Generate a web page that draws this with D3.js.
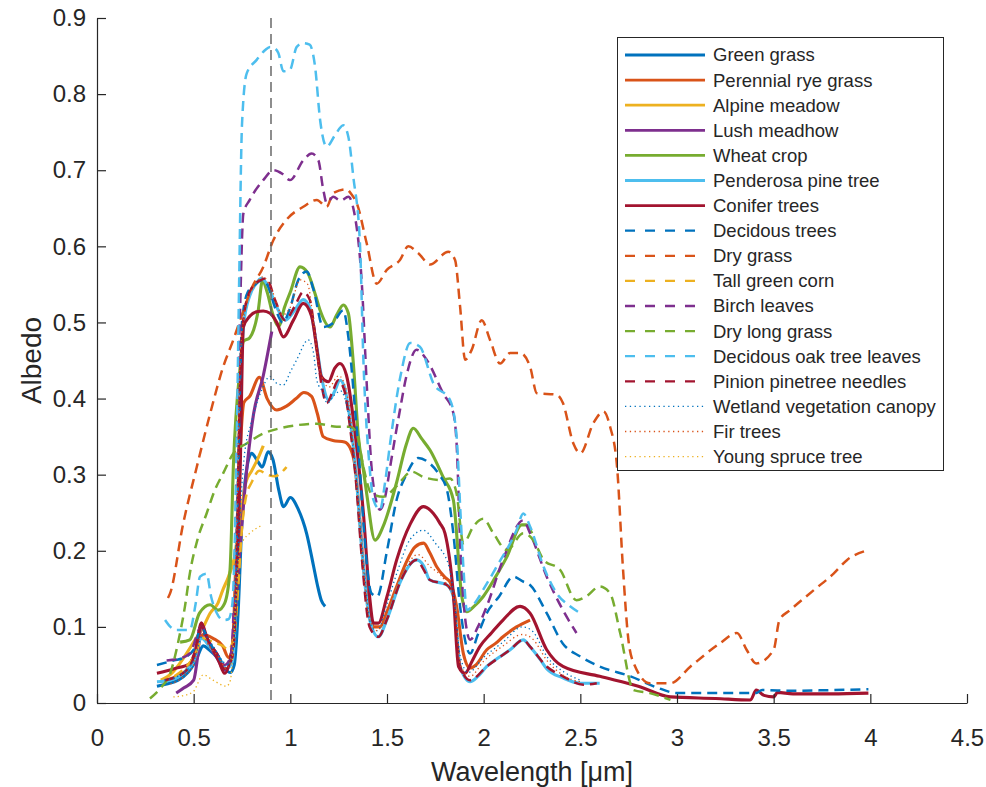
<!DOCTYPE html>
<html><head><meta charset="utf-8">
<script src="https://cdn.jsdelivr.net/npm/d3@7"></script>
<style>
html,body{margin:0;padding:0;background:#fff;}
text{font-family:"Liberation Sans",Arial,Helvetica,sans-serif;fill:#262626;}
</style></head>
<body><svg id="chart" width="986" height="787"></svg>
<script>
// ---------- data ----------
const seriesNames = ["Green grass","Perennial rye grass","Alpine meadow","Lush meadhow","Wheat crop","Penderosa pine tree","Conifer trees","Decidous trees","Dry grass","Tall green corn","Birch leaves","Dry long grass","Decidous oak tree leaves","Pinion pinetree needles","Wetland vegetation canopy","Fir trees","Young spruce tree"];
const seriesColors = ["#0072BD","#D95319","#EDB120","#7E2F8E","#77AC30","#4DBEEE","#A2142F","#0072BD","#D95319","#EDB120","#7E2F8E","#77AC30","#4DBEEE","#A2142F","#0072BD","#D95319","#EDB120"];
const seriesStyles = ["solid","solid","solid","solid","solid","solid","solid","dashed","dashed","dashed","dashed","dashed","dashed","dashed","dotted","dotted","dotted"];
const xTicks = [0,0.5,1,1.5,2,2.5,3,3.5,4,4.5];
const yTicks = [0,0.1,0.2,0.3,0.4,0.5,0.6,0.7,0.8,0.9];
const markerWavelength = 0.9;

const greenGrass = [[0.31,0.022],[0.36,0.025],[0.42,0.03],[0.47,0.04],[0.51,0.055],[0.55,0.075],[0.58,0.07],[0.62,0.06],[0.66,0.045],[0.69,0.04],[0.71,0.05],[0.73,0.12],[0.75,0.24],[0.77,0.3],[0.8,0.328],[0.83,0.318],[0.855,0.31],[0.885,0.33],[0.91,0.32],[0.94,0.28],[0.965,0.258],[1.0,0.27],[1.04,0.255],[1.085,0.222],[1.12,0.18],[1.14,0.155],[1.16,0.135],[1.18,0.127]];
const perennialRye = [[0.35,0.03],[0.45,0.04],[0.5,0.06],[0.55,0.09],[0.6,0.085],[0.65,0.075],[0.68,0.06],[0.7,0.07],[0.72,0.2],[0.74,0.33],[0.76,0.395],[0.79,0.403],[0.84,0.428],[0.88,0.40],[0.93,0.385],[0.98,0.39],[1.03,0.4],[1.07,0.408],[1.11,0.403],[1.14,0.38],[1.17,0.35],[1.22,0.345],[1.28,0.343],[1.31,0.335],[1.335,0.31],[1.36,0.24],[1.378,0.179],[1.41,0.12],[1.43,0.1],[1.464,0.1],[1.5,0.12],[1.55,0.153],[1.6,0.185],[1.645,0.205],[1.69,0.21],[1.72,0.198],[1.757,0.179],[1.8,0.165],[1.826,0.159],[1.86,0.127],[1.895,0.065],[1.93,0.046],[1.96,0.05],[2.016,0.07],[2.06,0.078],[2.1,0.087],[2.17,0.1],[2.24,0.109]];
const alpineMeadow = [[0.33,0.03],[0.39,0.04],[0.45,0.06],[0.5,0.08],[0.55,0.1],[0.585,0.118],[0.625,0.131],[0.65,0.148],[0.68,0.166],[0.71,0.19],[0.74,0.24],[0.77,0.29],[0.8,0.305],[0.83,0.32],[0.86,0.338]];
const lushMeadhow = [[0.41,0.013],[0.45,0.02],[0.5,0.03],[0.52,0.06],[0.54,0.105],[0.56,0.09],[0.585,0.074],[0.62,0.06],[0.66,0.043],[0.69,0.052],[0.71,0.1],[0.74,0.205],[0.78,0.32],[0.81,0.38],[0.86,0.43],[0.904,0.488]];
const wheatCrop = [[0.43,0.08],[0.48,0.083],[0.53,0.118],[0.585,0.129],[0.627,0.122],[0.66,0.131],[0.688,0.175],[0.706,0.315],[0.74,0.44],[0.757,0.475],[0.79,0.48],[0.81,0.49],[0.834,0.516],[0.856,0.555],[0.88,0.54],[0.91,0.51],[0.94,0.495],[0.97,0.52],[1.0,0.54],[1.05,0.573],[1.09,0.565],[1.13,0.536],[1.154,0.516],[1.205,0.494],[1.24,0.51],[1.274,0.523],[1.30,0.512],[1.326,0.446],[1.352,0.35],[1.378,0.306],[1.395,0.275],[1.438,0.214],[1.48,0.232],[1.55,0.29],[1.6,0.34],[1.636,0.361],[1.68,0.347],[1.723,0.332],[1.79,0.297],[1.843,0.267],[1.887,0.14],[1.913,0.12],[1.95,0.127],[1.998,0.14],[2.06,0.165],[2.12,0.192],[2.197,0.234],[2.22,0.234],[2.249,0.223]];
const penderosaPine = [[0.31,0.028],[0.38,0.03],[0.45,0.04],[0.5,0.055],[0.54,0.085],[0.58,0.075],[0.63,0.06],[0.67,0.045],[0.7,0.055],[0.72,0.15],[0.74,0.4],[0.76,0.5],[0.79,0.535],[0.82,0.55],[0.85,0.558],[0.88,0.55],[0.93,0.52],[0.975,0.503],[1.02,0.515],[1.067,0.53],[1.1,0.52],[1.13,0.48],[1.16,0.43],[1.2,0.398],[1.23,0.41],[1.257,0.424],[1.28,0.415],[1.31,0.37],[1.34,0.3],[1.37,0.2],[1.41,0.11],[1.455,0.087],[1.5,0.11],[1.57,0.16],[1.653,0.188],[1.69,0.18],[1.72,0.162],[1.81,0.155],[1.843,0.14],[1.878,0.048],[1.93,0.028],[1.97,0.035],[2.016,0.048],[2.08,0.06],[2.137,0.07],[2.205,0.083],[2.24,0.074],[2.29,0.058],[2.326,0.045],[2.41,0.033],[2.5,0.026],[2.6,0.026]];
const coniferTrees = [[0.31,0.039],[0.4,0.045],[0.48,0.052],[0.51,0.07],[0.54,0.105],[0.57,0.085],[0.6,0.07],[0.63,0.055],[0.66,0.039],[0.7,0.074],[0.72,0.15],[0.74,0.3],[0.757,0.494],[0.79,0.508],[0.826,0.514],[0.86,0.515],[0.895,0.512],[0.93,0.5],[0.964,0.481],[1.016,0.503],[1.067,0.525],[1.11,0.508],[1.14,0.46],[1.16,0.429],[1.197,0.422],[1.23,0.44],[1.257,0.446],[1.29,0.431],[1.343,0.337],[1.378,0.249],[1.41,0.14],[1.43,0.105],[1.455,0.105],[1.5,0.14],[1.55,0.188],[1.62,0.235],[1.688,0.258],[1.74,0.249],[1.774,0.236],[1.80,0.223],[1.843,0.144],[1.87,0.048],[1.904,0.039],[1.94,0.055],[1.98,0.074],[2.04,0.092],[2.10,0.109],[2.188,0.127],[2.24,0.118],[2.326,0.07],[2.41,0.048],[2.6,0.035],[2.8,0.022],[2.966,0.008],[3.2,0.006],[3.38,0.004],[3.41,0.017],[3.45,0.01],[3.50,0.008],[3.52,0.014],[3.6,0.012],[3.8,0.012],[3.99,0.013]];
const decidousTrees = [[0.31,0.05],[0.4,0.056],[0.445,0.059],[0.5,0.07],[0.54,0.1],[0.58,0.08],[0.62,0.065],[0.66,0.05],[0.69,0.055],[0.71,0.1],[0.73,0.3],[0.75,0.5],[0.78,0.54],[0.82,0.55],[0.85,0.555],[0.88,0.55],[0.92,0.52],[0.96,0.50],[1.0,0.52],[1.04,0.555],[1.085,0.567],[1.12,0.543],[1.17,0.494],[1.22,0.499],[1.274,0.516],[1.30,0.481],[1.335,0.385],[1.36,0.306],[1.378,0.236],[1.42,0.144],[1.45,0.14],[1.5,0.2],[1.55,0.267],[1.6,0.3],[1.662,0.322],[1.72,0.315],[1.77,0.3],[1.81,0.28],[1.843,0.223],[1.878,0.127],[1.93,0.065],[1.97,0.09],[2.016,0.118],[2.08,0.14],[2.154,0.166],[2.2,0.16],[2.24,0.155],[2.326,0.118],[2.41,0.078],[2.5,0.061],[2.6,0.048],[2.76,0.035],[2.9,0.02],[3.0,0.013],[3.2,0.013],[3.41,0.013],[3.44,0.017],[3.6,0.016],[3.8,0.017],[3.99,0.018]];
const dryGrass = [[0.367,0.138],[0.378,0.144],[0.446,0.236],[0.516,0.31],[0.585,0.38],[0.653,0.442],[0.705,0.477],[0.75,0.51],[0.8,0.545],[0.86,0.573],[0.912,0.608],[0.98,0.635],[1.067,0.652],[1.137,0.661],[1.188,0.652],[1.222,0.67],[1.29,0.675],[1.317,0.668],[1.343,0.657],[1.395,0.604],[1.447,0.551],[1.499,0.569],[1.567,0.582],[1.61,0.6],[1.662,0.591],[1.723,0.576],[1.817,0.593],[1.852,0.582],[1.878,0.521],[1.904,0.451],[1.938,0.464],[1.99,0.503],[2.033,0.477],[2.085,0.446],[2.137,0.46],[2.188,0.46],[2.24,0.442],[2.275,0.407],[2.378,0.405],[2.41,0.394],[2.464,0.341],[2.5,0.328],[2.568,0.368],[2.62,0.383],[2.654,0.363],[2.69,0.31],[2.72,0.179],[2.75,0.08],[2.78,0.05],[2.86,0.026],[2.966,0.026],[3.07,0.048],[3.22,0.078],[3.31,0.092],[3.36,0.07],[3.41,0.052],[3.50,0.07],[3.53,0.109],[3.585,0.122],[3.706,0.148],[3.81,0.17],[3.88,0.188],[3.99,0.201]];
const tallGreenCorn = [[0.4,0.035],[0.45,0.045],[0.5,0.06],[0.55,0.085],[0.6,0.08],[0.65,0.075],[0.68,0.07],[0.71,0.09],[0.73,0.15],[0.75,0.23],[0.77,0.27],[0.8,0.29],[0.84,0.305],[0.88,0.30],[0.92,0.298],[0.95,0.302],[0.98,0.31]];
const birchLeaves = [[0.36,0.056],[0.42,0.058],[0.48,0.065],[0.54,0.1],[0.58,0.08],[0.62,0.065],[0.66,0.05],[0.69,0.06],[0.71,0.15],[0.725,0.35],[0.74,0.516],[0.757,0.643],[0.79,0.661],[0.86,0.687],[0.912,0.70],[0.96,0.695],[0.998,0.687],[1.067,0.713],[1.11,0.722],[1.145,0.713],[1.17,0.675],[1.188,0.657],[1.222,0.665],[1.26,0.66],[1.3,0.665],[1.33,0.645],[1.37,0.55],[1.395,0.42],[1.42,0.31],[1.44,0.27],[1.464,0.254],[1.49,0.27],[1.516,0.31],[1.567,0.385],[1.60,0.429],[1.653,0.464],[1.705,0.451],[1.79,0.407],[1.843,0.381],[1.86,0.341],[1.88,0.2],[1.895,0.135],[1.93,0.083],[1.97,0.1],[2.016,0.127],[2.10,0.188],[2.205,0.24],[2.24,0.223],[2.326,0.166],[2.41,0.122],[2.48,0.092]];
const dryLongGrass = [[0.274,0.006],[0.33,0.02],[0.38,0.04],[0.42,0.08],[0.455,0.127],[0.48,0.17],[0.52,0.215],[0.567,0.249],[0.61,0.28],[0.653,0.302],[0.705,0.328],[0.774,0.341],[0.86,0.354],[0.947,0.361],[1.033,0.365],[1.137,0.367],[1.24,0.363],[1.31,0.363],[1.343,0.354],[1.378,0.31],[1.42,0.275],[1.48,0.271],[1.55,0.285],[1.628,0.304],[1.688,0.297],[1.774,0.293],[1.826,0.295],[1.86,0.275],[1.895,0.21],[1.947,0.232],[1.998,0.242],[2.05,0.223],[2.12,0.201],[2.205,0.223],[2.257,0.214],[2.31,0.188],[2.395,0.175],[2.48,0.135],[2.53,0.14],[2.6,0.153],[2.654,0.144],[2.706,0.092],[2.775,0.017],[2.86,0.013],[2.966,0.004]];
const decidousOak = [[0.352,0.109],[0.38,0.1],[0.41,0.096],[0.48,0.096],[0.51,0.13],[0.533,0.166],[0.567,0.17],[0.59,0.14],[0.62,0.118],[0.653,0.109],[0.68,0.11],[0.7,0.13],[0.72,0.3],[0.735,0.55],[0.75,0.76],[0.774,0.827],[0.826,0.845],[0.87,0.858],[0.895,0.862],[0.92,0.86],[0.938,0.854],[0.964,0.83],[0.998,0.832],[1.033,0.862],[1.067,0.867],[1.10,0.865],[1.128,0.836],[1.154,0.766],[1.188,0.731],[1.231,0.746],[1.274,0.759],[1.30,0.744],[1.326,0.691],[1.36,0.604],[1.378,0.45],[1.41,0.31],[1.43,0.267],[1.464,0.254],[1.49,0.29],[1.516,0.341],[1.57,0.43],[1.62,0.473],[1.67,0.468],[1.74,0.42],[1.826,0.398],[1.86,0.35],[1.88,0.25],[1.895,0.179],[1.913,0.122],[1.95,0.13],[2.0,0.15],[2.067,0.179],[2.17,0.227],[2.205,0.249],[2.24,0.232],[2.31,0.179],[2.378,0.144],[2.447,0.127],[2.5,0.118]];
const pinionNeedles = [[0.35,0.03],[0.45,0.04],[0.5,0.06],[0.54,0.1],[0.58,0.08],[0.62,0.065],[0.66,0.045],[0.7,0.06],[0.72,0.15],[0.74,0.42],[0.76,0.51],[0.8,0.545],[0.85,0.556],[0.877,0.558],[0.92,0.53],[0.973,0.503],[1.02,0.52],[1.067,0.54],[1.1,0.53],[1.13,0.48],[1.16,0.42],[1.188,0.394],[1.22,0.41],[1.248,0.424],[1.28,0.41],[1.31,0.36],[1.34,0.29],[1.37,0.19],[1.41,0.1],[1.455,0.087],[1.5,0.11],[1.57,0.16],[1.653,0.188],[1.69,0.175],[1.72,0.162],[1.81,0.155],[1.843,0.14],[1.878,0.048],[1.93,0.03],[2.016,0.048],[2.137,0.07],[2.205,0.083],[2.24,0.074],[2.326,0.048],[2.41,0.035],[2.516,0.024],[2.585,0.026]];
const wetlandCanopy = [[0.35,0.03],[0.45,0.04],[0.5,0.055],[0.55,0.09],[0.6,0.075],[0.65,0.055],[0.68,0.05],[0.71,0.08],[0.73,0.2],[0.76,0.32],[0.8,0.37],[0.85,0.41],[0.895,0.429],[0.93,0.42],[0.964,0.418],[1.0,0.435],[1.033,0.451],[1.093,0.477],[1.12,0.46],[1.137,0.424],[1.171,0.407],[1.19,0.394],[1.23,0.405],[1.26,0.41],[1.3,0.38],[1.34,0.3],[1.38,0.18],[1.42,0.1],[1.45,0.095],[1.5,0.13],[1.55,0.17],[1.62,0.215],[1.688,0.227],[1.75,0.21],[1.82,0.18],[1.85,0.13],[1.88,0.06],[1.92,0.04],[2.0,0.06],[2.1,0.08],[2.2,0.1],[2.25,0.095],[2.33,0.06],[2.42,0.04],[2.5,0.03]];
const firTrees = [[0.38,0.025],[0.45,0.035],[0.5,0.05],[0.54,0.09],[0.58,0.075],[0.63,0.06],[0.67,0.045],[0.7,0.07],[0.72,0.2],[0.74,0.45],[0.77,0.52],[0.82,0.55],[0.86,0.56],[0.9,0.545],[0.96,0.51],[1.0,0.52],[1.05,0.556],[1.09,0.55],[1.12,0.5],[1.15,0.44],[1.2,0.415],[1.25,0.43],[1.29,0.41],[1.33,0.33],[1.37,0.2],[1.41,0.11],[1.45,0.095],[1.5,0.12],[1.58,0.17],[1.66,0.195],[1.72,0.18],[1.8,0.16],[1.85,0.13],[1.88,0.05],[1.93,0.035],[2.0,0.055],[2.1,0.075],[2.2,0.09],[2.25,0.085],[2.33,0.055],[2.42,0.035],[2.5,0.028]];
const youngSpruce = [[0.395,0.008],[0.45,0.01],[0.498,0.015],[0.55,0.037],[0.6,0.03],[0.67,0.022],[0.69,0.03],[0.705,0.074],[0.72,0.14],[0.74,0.205],[0.757,0.214],[0.79,0.223],[0.85,0.233]];

const seriesData = [greenGrass,perennialRye,alpineMeadow,lushMeadhow,wheatCrop,penderosaPine,coniferTrees,decidousTrees,dryGrass,tallGreenCorn,birchLeaves,dryLongGrass,decidousOak,pinionNeedles,wetlandCanopy,firTrees,youngSpruce];

// ---------- drawing ----------
const svg = d3.select("#chart");
const L = 97, R = 967, T = 18, B = 703;
const x = d3.scaleLinear().domain([0,4.5]).range([L,R]);
const y = d3.scaleLinear().domain([0,0.9]).range([B,T]);

const styleOf = {
  solid:  {w:3.1, dash:null},
  dashed: {w:2.5, dash:"10,6"},
  dotted: {w:1.3, dash:"1.3,3"}
};

const line = d3.line().x(d=>x(d[0])).y(d=>y(d[1])).curve(d3.curveMonotoneX);
const plot = svg.append("g");
seriesData.forEach((data,i)=>{
  const st = styleOf[seriesStyles[i]];
  plot.append("path").datum(data)
    .attr("d", line).attr("fill","none")
    .attr("stroke", seriesColors[i]).attr("stroke-width", st.w)
    .attr("stroke-linejoin","round")
    .attr("stroke-dasharray", st.dash);
});

// vertical marker line
svg.append("line").attr("x1",x(markerWavelength)).attr("x2",x(markerWavelength))
  .attr("y1",y(0.9)).attr("y2",y(0)).attr("stroke","#5e5e5e").attr("stroke-width",1.4)
  .attr("stroke-dasharray","10,6");

// axes
const xAxis = d3.axisBottom(x).tickValues(xTicks).tickFormat(d3.format("~g"))
  .tickSizeInner(-9).tickSizeOuter(0).tickPadding(26);
const yAxis = d3.axisLeft(y).tickValues(yTicks).tickFormat(d3.format("~g"))
  .tickSizeInner(-9).tickSizeOuter(0).tickPadding(11);
const gx = svg.append("g").attr("transform",`translate(0,${B})`).call(xAxis);
const gy = svg.append("g").attr("transform",`translate(${L},0)`).call(yAxis);
[gx,gy].forEach(g=>{
  g.selectAll("path.domain").attr("stroke","#262626").attr("stroke-width",1.2);
  g.selectAll(".tick line").attr("stroke","#262626").attr("stroke-width",1.2);
  g.selectAll(".tick text").attr("font-size","24px").attr("fill","#262626")
    .attr("font-family","'Liberation Sans',Arial,sans-serif");
});

svg.append("text").attr("x",(L+R)/2).attr("y",781).attr("text-anchor","middle")
  .attr("font-size","27px").text("Wavelength [μm]");
svg.append("text").attr("transform",`translate(41,${(T+B)/2}) rotate(-90)`)
  .attr("text-anchor","middle").attr("font-size","28px").text("Albedo");

// legend
const lg = svg.append("g");
lg.append("rect").attr("x",617.5).attr("y",37.5).attr("width",326).attr("height",433)
  .attr("fill","#fff").attr("stroke","#262626").attr("stroke-width",1);
const legendStyle = {
  solid: {w:2.8, dash:null},
  dashed:{w:2.3, dash:"10,10"},
  dotted:{w:1.3, dash:"1.3,3.5"}
};
seriesNames.forEach((name,i)=>{
  const cy = 55 + i*25.1;
  const st = legendStyle[seriesStyles[i]];
  lg.append("line").attr("x1",625).attr("x2",705).attr("y1",cy).attr("y2",cy)
    .attr("stroke",seriesColors[i]).attr("stroke-width",st.w).attr("stroke-dasharray",st.dash);
  lg.append("text").attr("x",713).attr("y",cy).attr("dy","0.35em")
    .attr("font-size","18.5px").text(name);
});
</script></body></html>
